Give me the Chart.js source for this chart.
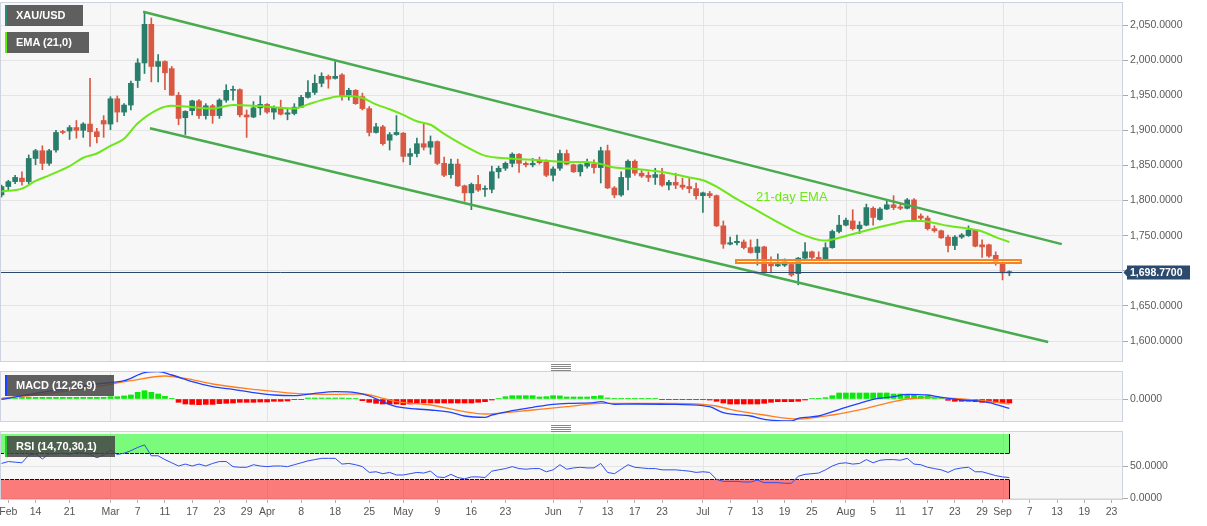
<!DOCTYPE html>
<html><head><meta charset="utf-8">
<script src="https://cdn.jsdelivr.net/npm/chart.js@4.4.1/dist/chart.umd.min.js"></script>
<style>
html,body{margin:0;padding:0;background:#fff;width:1207px;height:526px;overflow:hidden;font-family:"Liberation Sans",Arial,sans-serif;}
#wrap{position:relative;width:1207px;height:526px;}
canvas{position:absolute;left:0;}
.lg{position:absolute;left:5px;height:21px;line-height:21px;color:#fff;font-weight:bold;font-size:11px;background:rgba(70,70,70,0.86);padding-left:9px;box-sizing:border-box;border-left:2px solid;white-space:nowrap;}
.handle{position:absolute;left:551px;width:20px;height:7px;background:repeating-linear-gradient(to bottom,#888 0px,#888 1px,transparent 1px,transparent 2px);}
</style></head>
<body>
<div id="wrap">
  <canvas id="cMain" width="1207" height="362" style="top:0px;width:1207px;height:362px"></canvas>
  <canvas id="cMacd" width="1207" height="51" style="top:371px;width:1207px;height:51px"></canvas>
  <canvas id="cRsi" width="1207" height="103" style="top:423px;width:1207px;height:103px"></canvas>
  <div class="handle" style="top:364px"></div>
  <div class="handle" style="top:425px"></div>
  <div class="lg" style="top:5px;width:78px;border-color:#2e8774">XAU/USD</div>
  <div class="lg" style="top:32px;width:84px;border-color:#5ef000">EMA (21,0)</div>
  <div class="lg" style="top:375px;width:109px;border-color:#1f3fff">MACD (12,26,9)</div>
  <div class="lg" style="top:436px;width:110px;border-color:#22d022">RSI (14,70,30,1)</div>
</div>
<script>
// ---------- categories ----------
const START_DATE = '2022-02-07';
const END_DATE = '2022-09-30';
const CLOSED_DAYS = ['2022-04-15'];
const dates = (() => {
  const out = [];
  let d = new Date(START_DATE + 'T00:00:00Z');
  const end = new Date(END_DATE + 'T00:00:00Z');
  while (d <= end) {
    const s = d.toISOString().slice(0, 10);
    const wd = d.getUTCDay();
    if (wd !== 0 && wd !== 6 && !CLOSED_DAYS.includes(s)) out.push(s);
    d = new Date(d.getTime() + 86400000);
  }
  return out;
})();

// ---------- tick labels ----------
const tickDates = ['2022-02-08','2022-02-14','2022-02-21','2022-03-01','2022-03-07','2022-03-11','2022-03-17','2022-03-23','2022-03-29','2022-04-01','2022-04-08','2022-04-18','2022-04-25','2022-05-02','2022-05-09','2022-05-16','2022-05-23','2022-06-01','2022-06-07','2022-06-13','2022-06-17','2022-06-23','2022-07-01','2022-07-07','2022-07-13','2022-07-19','2022-07-25','2022-08-01','2022-08-05','2022-08-11','2022-08-17','2022-08-23','2022-08-29','2022-09-01','2022-09-07','2022-09-13','2022-09-19','2022-09-23'];
const tickLabels = ['Feb','14','21','Mar','7','11','17','23','29','Apr','8','18','25','May','9','16','23','Jun','7','13','17','23','Jul','7','13','19','25','Aug','5','11','17','23','29','Sep','7','13','19','23'];
const priceTicks = [1600,1650,1700,1750,1800,1850,1900,1950,2000,2050];
const macdTicks = [0];
const rsiTicks = [0,50];

// ---------- XAU/USD daily OHLC (from Feb 7) ----------
const open = [1808,1820,1827,1832,1827,1860,1871,1853,1872,1898,
1899,1904,1900,1909,1898,1914,1909,1945,1926,1936,
1971,1996,2051,1991,1998,1988,1950,1918,1928,1942,
1921,1935,1921,1943,1957,1958,1922,1919,1932,1937,
1926,1932,1923,1924,1933,1947,1954,1967,1977,1974,
1979,1950,1957,1948,1931,1897,1905,1886,1894,1896,
1863,1867,1881,1876,1884,1853,1837,1852,1821,1811,
1823,1816,1816,1841,1846,1853,1866,1853,1851,1856,
1855,1836,1846,1867,1851,1841,1849,1852,1847,1871,
1818,1808,1833,1856,1839,1836,1833,1837,1822,1826,
1822,1820,1817,1807,1810,1807,1764,1738,1740,1741,
1733,1726,1734,1711,1707,1708,1709,1696,1718,1727,
1719,1716,1733,1756,1765,1771,1760,1765,1789,1773,
1788,1794,1791,1789,1801,1778,1775,1760,1757,1748,
1736,1748,1750,1758,1737,1737,1722,1711,1697];
const high = [1822,1829,1836,1841,1865,1873,1878,1873,1900,1900,
1907,1914,1911,1974,1903,1921,1948,1949,1938,1970,
2002,2069,2060,2008,1999,1991,1954,1928,1943,1944,
1938,1937,1945,1965,1963,1959,1929,1941,1949,1938,
1935,1943,1930,1938,1950,1971,1979,1982,1979,1998,
1981,1960,1958,1953,1934,1910,1907,1897,1921,1897,
1874,1889,1909,1892,1885,1862,1859,1859,1822,1825,
1836,1821,1849,1849,1855,1868,1867,1855,1860,1862,
1858,1848,1872,1872,1852,1852,1859,1858,1876,1879,
1820,1841,1858,1858,1844,1841,1846,1846,1829,1839,
1832,1833,1825,1812,1813,1808,1771,1748,1751,1744,
1744,1745,1735,1720,1724,1717,1711,1719,1740,1728,
1727,1740,1758,1779,1775,1787,1770,1795,1791,1790,
1801,1807,1796,1803,1803,1781,1778,1764,1758,1751,
1750,1753,1764,1759,1744,1738,1727,1713,1700];
const low = [1805,1815,1824,1822,1824,1851,1844,1850,1869,1895,
1887,1889,1890,1877,1882,1890,1901,1912,1921,1929,
1961,1981,1969,1969,1958,1950,1908,1894,1922,1917,
1916,1910,1917,1940,1943,1919,1890,1918,1922,1924,
1916,1922,1915,1922,1933,1946,1951,1962,1960,1973,
1943,1943,1937,1929,1892,1896,1879,1872,1893,1855,
1851,1862,1872,1866,1851,1834,1832,1820,1799,1787,
1813,1806,1811,1832,1843,1848,1840,1848,1848,1852,
1834,1828,1843,1851,1840,1835,1846,1839,1825,1817,
1804,1806,1815,1836,1833,1827,1823,1820,1815,1817,
1816,1811,1802,1783,1804,1763,1732,1737,1737,1731,
1725,1708,1696,1697,1706,1706,1692,1680,1715,1716,
1714,1715,1732,1754,1764,1758,1753,1764,1765,1772,
1787,1787,1787,1788,1771,1772,1758,1755,1746,1727,
1730,1746,1749,1734,1719,1719,1708,1687,1693];
const close = [1820,1827,1833,1827,1860,1871,1853,1871,1897,1897,
1904,1900,1909,1898,1891,1909,1945,1926,1936,1967,
1996,2051,1991,1998,1982,1950,1917,1927,1942,1921,
1935,1921,1943,1957,1958,1922,1919,1932,1937,1926,
1932,1923,1925,1933,1947,1954,1967,1977,1973,1977,
1949,1957,1938,1931,1897,1905,1881,1894,1897,1863,
1867,1881,1876,1884,1853,1836,1852,1821,1811,1823,
1815,1816,1841,1846,1853,1866,1853,1851,1853,1854,
1836,1845,1867,1852,1841,1851,1853,1847,1871,1818,
1808,1833,1856,1839,1835,1833,1837,1822,1826,1822,
1819,1817,1807,1811,1807,1764,1738,1740,1742,1733,
1726,1734,1697,1707,1709,1713,1694,1718,1727,1719,
1716,1733,1756,1765,1772,1760,1765,1790,1776,1788,
1794,1790,1789,1801,1772,1775,1760,1757,1747,1736,
1748,1751,1758,1735,1734,1721,1711,1697,1698.77];
const lastPrice = 1698.77;

// ---------- 21-day EMA (read at these bar indexes) ----------
const emaAt  = [0,3,5,7,10,12,14,16,18,20,23,25,27,31,34,37,40,43,45,47,49,51,53,55,57,59,61,63,65,68,71,73,76,78,81,83,86,88,90,93,96,99,101,103,105,108,110,112,115,117,120,121,123,126,128,131,133,135,137,139,142,144,146,148];
const emaVal = [1813,1817,1828,1836,1849,1861,1867,1878,1888,1910,1930,1935,1934,1931,1936,1935,1933,1931,1937,1943,1948,1949,1946,1937,1930,1922,1913,1908,1895,1878,1864,1861,1859,1858,1856,1855,1855,1852,1847,1845,1842,1837,1833,1829,1820,1802,1791,1780,1764,1754,1744,1743,1747,1755,1760,1767,1771,1771,1768,1764,1760,1756,1748,1741];

// ---------- MACD (12,26,9) ----------
const macdAt  = [0,5,10,14,18,21,23,25,28,31,34,37,40,43,46,49,52,54,56,58,61,63,66,68,71,72,75,78,81,84,87,88,90,93,98,103,104,106,110,112,116,117,120,124,126,128,131,133,136,138,141,143,145,148];
const macdVal = [-0.4,7.4,13.9,19.5,23.8,34.2,35.5,31.2,22.5,16,12.6,8.2,5.2,4.3,7.4,9.5,8.2,3.9,-3.5,-10,-13,-14.3,-17.3,-22.1,-23.8,-20.8,-15.2,-10.8,-6.9,-5.6,-4.8,-3.5,-6.9,-6.5,-6.9,-8.7,-10,-17.8,-22.1,-26.4,-28.6,-25.1,-22.1,-10.8,-5.6,-0.4,3,6.1,5.2,2.2,-1.3,-2.2,-4.8,-12.1];
const signalAt  = [0,5,10,14,19,24,27,31,37,43,49,53,56,58,63,68,71,73,78,83,88,93,98,103,105,107,112,117,122,127,131,133,137,141,144,148];
const signalVal = [0.9,5.2,10.8,16,23.8,29.9,26.9,19.5,12.6,7.4,6.1,6.5,0.9,-3.5,-7.8,-16.5,-19.5,-18.6,-14.3,-10,-5.6,-5.6,-5.6,-6.9,-9.1,-13.4,-20.8,-26,-20.8,-12.1,-3.5,0,2.2,0,-2.2,-6.5];
const macdHist = [0.5,0.5,0.5,2.2,2.2,2.2,2.2,2.2,2.2,2.2,
2.2,2.2,2.2,2.2,2.2,2.2,3,3,4,5.2,
8.7,10.8,8.7,6.5,3.5,0.4,-4.3,-6.5,-7,-7.4,
-7,-7,-6,-5.6,-5.2,-4.3,-4.3,-4.3,-3.9,-3.9,
-3,-3,-2.6,-0.9,-0.5,1.3,1.3,1.3,1.3,1.3,
1.3,1,0.5,-2.2,-4.3,-5.6,-6.5,-6.5,-6.5,-7.4,
-6.5,-5.2,-5.2,-5.2,-5.2,-5.2,-5.2,-5.2,-5.2,-5.2,
-4.3,-3.5,-1.3,0.5,3,4.3,4.3,4.3,4.3,2.6,
3,4.3,4,2.6,2.6,2.6,2.6,3.5,4.3,1.3,
0.9,0.9,0.9,0.9,0.9,0.9,0.5,-0.9,-0.9,-0.9,
-0.9,-0.9,-0.9,-0.9,-1.3,-3,-5.2,-6.5,-6.5,-6.5,
-6.5,-6.5,-5.6,-4.3,-3.5,-3.5,-3.5,-3,-1.3,0.5,
0.9,1.7,4.3,7.8,7.8,7.8,7.8,7.8,7.8,7.8,
7.8,6.5,6.5,6,6,3.5,3.5,1.3,0.5,-1.7,
-3,-3,-3,-3.5,-4.3,-4.3,-4.8,-5.2,-5.2];

// ---------- RSI (14) ----------
const rsi = [54,57,56,55,67,69,61,69,69,70,
68,71,70,68,63,67,75,68,70,74,
79,83,66,66,60,55,50,53,50,53,
50,54,57,57,49,48,48,52,50,49,
50,50,49,52,55,58,60,62,62,62,
53,54,52,49,40,41,38,40,36,36,
38,40,39,42,33,32,37,32,30,33,
33,32,42,44,46,49,46,45,46,46,
41,44,52,45,47,48,47,47,54,40,
38,45,52,48,47,46,46,44,44,44,
43,42,40,41,40,29,26,26,26,25,
25,28,24,24,24,23,23,34,37,38,
39,44,50,54,55,53,54,60,55,59,
60,60,59,62,53,52,48,46,44,40,
45,47,48,41,41,38,35,33,32];
const rsiBands = [30, 70, 100];

// ---------- drawn studies ----------
const channelUpper = [[20.8, 2069], [155.7, 1738]];   // [bar index, price]
const channelLower = [[21.8, 1903], [153.7, 1598.6]];
const zoneRange = [107.86, 149.7];     // bar index span
const zoneLevels = [1711.1, 1715.3];   // price span
const emaNote = { text: '21-day EMA', at: [110.8, 1805] };

// ---------- view ----------
const X_MIN = -0.22, X_MAX = 164.69;
const PRICE_MIN = 1570.1, PRICE_MAX = 2082.8;
const MACD_MIN = -29.9, MACD_MAX = 36.4;
const RSI_MIN = -3.1, RSI_MAX = 104.7;

// ---------- styling ----------
const FONT = '"Liberation Sans", Arial, sans-serif';
const UP = '#2a7d6a', DOWN = '#d85844';
const PANEL_BG = '#f7f7f7', PANEL_BORDER = '#cdd3e1', GRID = '#e4e4e4';
const AXIS_W = 84;
Chart.defaults.font.family = FONT;

const fmt = v => Number(v).toLocaleString('en-US', {minimumFractionDigits: 4, maximumFractionDigits: 4});
const monthIdx = dates.map((d, i) => (i > 0 && d.slice(5, 7) !== dates[i - 1].slice(5, 7)) ? i : -1).filter(i => i >= 0);
const tickIdx = tickDates.map(d => dates.indexOf(d));
const lastIdx = close.length - 1;
const idx = close.map((_, i) => i);
const candleColor = idx.map(i => close[i] >= open[i] ? UP : DOWN);

function panelPlugin(extra) {
  return {
    id: 'panel',
    beforeDraw(chart) {
      const {ctx, chartArea: a} = chart;
      ctx.save(); ctx.fillStyle = PANEL_BG;
      ctx.fillRect(a.left, a.top, a.right - a.left, a.bottom - a.top);
      ctx.restore();
    },
    beforeDatasetsDraw(chart) {
      const {ctx, chartArea: a, scales} = chart;
      ctx.save(); ctx.strokeStyle = GRID; ctx.lineWidth = 1;
      monthIdx.forEach(i => {
        const x = Math.round(scales.x.getPixelForValue(i)) + 0.5;
        ctx.beginPath(); ctx.moveTo(x, a.top); ctx.lineTo(x, a.bottom); ctx.stroke();
      });
      ctx.restore();
      if (extra && extra.under) extra.under(chart);
    },
    afterDatasetsDraw(chart) { if (extra && extra.over) extra.over(chart); },
    afterDraw(chart) {
      const {ctx, chartArea: a} = chart;
      ctx.save(); ctx.strokeStyle = PANEL_BORDER; ctx.lineWidth = 1;
      ctx.strokeRect(a.left + 0.5, a.top + 0.5, a.right - a.left - 1, a.bottom - a.top - 1);
      ctx.restore();
      if (extra && extra.last) extra.last(chart);
    }
  };
}

function yAxis(min, max, ticksList) {
  return {
    position: 'right', min, max,
    afterBuildTicks: s => { s.ticks = ticksList.map(v => ({value: v})); },
    afterFit: s => { s.width = AXIS_W; s.paddingTop = 0; s.paddingBottom = 0; },
    ticks: { callback: v => fmt(v), color: '#5a5a5a', font: {size: 10.5, family: FONT}, padding: 2 },
    grid: { color: GRID, drawTicks: true, tickLength: 5, tickColor: '#a8a8a8' },
    border: { display: false }
  };
}
const hiddenX = { type: 'linear', min: X_MIN, max: X_MAX, display: false, offset: false };
const baseOpts = {
  responsive: false, animation: false, devicePixelRatio: 1, events: [],
  plugins: { legend: {display: false}, tooltip: {enabled: false} }
};

// ---------- main price chart ----------
new Chart(document.getElementById('cMain'), {
  type: 'line',
  data: { datasets: [
    { type: 'bar', data: idx.map(i => ({x: i, y: [low[i], high[i]]})), backgroundColor: candleColor, barThickness: 1, grouped: false, order: 6 },
    { type: 'bar', data: idx.map(i => ({x: i, y: [open[i], close[i]]})), backgroundColor: candleColor, barThickness: 5, minBarLength: 1, grouped: false, order: 5 },
    { type: 'line', data: emaAt.map((i, k) => ({x: i, y: emaVal[k]})), borderColor: '#6ee619', borderWidth: 2, pointRadius: 0, cubicInterpolationMode: 'monotone', order: 3 },
    { type: 'line', data: channelUpper.map(p => ({x: p[0], y: p[1]})), borderColor: '#4aaa4e', borderWidth: 2.5, pointRadius: 0, order: 2 },
    { type: 'line', data: channelLower.map(p => ({x: p[0], y: p[1]})), borderColor: '#4aaa4e', borderWidth: 2.5, pointRadius: 0, order: 2 }
  ]},
  options: Object.assign({}, baseOpts, {
    layout: { padding: {top: 2, left: 0, right: 0, bottom: 0} },
    scales: { x: hiddenX, y: yAxis(PRICE_MIN, PRICE_MAX, priceTicks) }
  }),
  plugins: [panelPlugin({
    over(chart) {
      const {ctx, chartArea: a, scales: {x, y}} = chart;
      ctx.save();
      const x0 = x.getPixelForValue(zoneRange[0]), x1 = x.getPixelForValue(zoneRange[1]);
      const y0 = y.getPixelForValue(zoneLevels[1]), y1 = y.getPixelForValue(zoneLevels[0]);
      ctx.fillStyle = 'rgba(255,255,255,0.6)'; ctx.fillRect(x0, y0, x1 - x0, y1 - y0);
      ctx.strokeStyle = '#f5841f'; ctx.lineWidth = 2; ctx.strokeRect(x0, y0, x1 - x0, y1 - y0);
      const py = Math.round(y.getPixelForValue(lastPrice)) + 0.5;
      ctx.strokeStyle = '#2b4a6e'; ctx.lineWidth = 1;
      ctx.beginPath(); ctx.moveTo(a.left, py); ctx.lineTo(a.right, py); ctx.stroke();
      ctx.fillStyle = '#6ee619'; ctx.font = '13px ' + FONT; ctx.textBaseline = 'middle'; ctx.textAlign = 'left';
      ctx.fillText(emaNote.text, x.getPixelForValue(emaNote.at[0]), y.getPixelForValue(emaNote.at[1]));
      ctx.restore();
    },
    last(chart) {
      const {ctx, chartArea: a, scales: {y}} = chart;
      const py = Math.round(y.getPixelForValue(lastPrice)) + 0.5;
      const r = a.right;
      ctx.save();
      ctx.fillStyle = '#2c4a6d';
      ctx.beginPath(); ctx.moveTo(r + 0.5, py); ctx.lineTo(r + 4.5, py - 4.5); ctx.lineTo(r + 4.5, py + 4.5); ctx.closePath(); ctx.fill();
      ctx.fillRect(r + 4, py - 7, 63, 14);
      ctx.fillStyle = '#fff'; ctx.font = 'bold 10.5px ' + FONT; ctx.textBaseline = 'middle'; ctx.textAlign = 'left';
      ctx.fillText(fmt(lastPrice), r + 7, py + 0.5);
      ctx.restore();
    }
  })]
});

// ---------- MACD ----------
new Chart(document.getElementById('cMacd'), {
  type: 'line',
  data: { datasets: [
    { type: 'bar', data: idx.map(i => ({x: i, y: macdHist[i]})), backgroundColor: macdHist.map(v => v >= 0 ? '#0ce80c' : '#ff0000'), barThickness: 5, grouped: false, order: 5 },
    { type: 'line', data: signalAt.map((i, k) => ({x: i, y: signalVal[k]})), borderColor: '#ff7f1e', borderWidth: 1.3, pointRadius: 0, cubicInterpolationMode: 'monotone', order: 3 },
    { type: 'line', data: macdAt.map((i, k) => ({x: i, y: macdVal[k]})), borderColor: '#2040ff', borderWidth: 1.3, pointRadius: 0, cubicInterpolationMode: 'monotone', order: 2 }
  ]},
  options: Object.assign({}, baseOpts, {
    layout: { padding: 0 },
    scales: { x: hiddenX, y: yAxis(MACD_MIN, MACD_MAX, macdTicks) }
  }),
  plugins: [panelPlugin()]
});

// ---------- RSI ----------
new Chart(document.getElementById('cRsi'), {
  type: 'line',
  data: { datasets: [
    { type: 'line', data: idx.map(i => ({x: i, y: rsi[i]})), borderColor: '#2f4ff0', borderWidth: 1, pointRadius: 0, tension: 0 }
  ]},
  options: Object.assign({}, baseOpts, {
    layout: { padding: {top: 8, left: 0, right: 0, bottom: 0} },
    scales: {
      x: {
        type: 'linear', min: X_MIN, max: X_MAX, offset: false,
        afterBuildTicks: s => { s.ticks = tickIdx.map(v => ({value: v})); },
        afterFit: s => { s.height = 26; s.paddingLeft = 0; s.paddingRight = 0; },
        ticks: { callback: (v, i) => tickLabels[i], autoSkip: false, maxRotation: 0, minRotation: 0, color: '#555', font: {size: 10.5, family: FONT}, padding: 3 },
        grid: { drawOnChartArea: false, drawTicks: true, tickLength: 3, tickColor: '#b0b0b0', offset: false },
        border: { display: false }
      },
      y: yAxis(RSI_MIN, RSI_MAX, rsiTicks)
    }
  }),
  plugins: [panelPlugin({
    under(chart) {
      const {ctx, chartArea: a, scales: {x, y}} = chart;
      const xr = x.getPixelForValue(lastIdx);
      const y30 = Math.round(y.getPixelForValue(rsiBands[0])) + 0.5;
      const y70 = Math.round(y.getPixelForValue(rsiBands[1])) + 0.5;
      const y100 = y.getPixelForValue(rsiBands[2]);
      ctx.save();
      ctx.fillStyle = 'rgba(0,255,0,0.5)';
      ctx.fillRect(a.left, y100, xr - a.left, y70 - y100);
      ctx.fillStyle = 'rgba(255,0,0,0.5)';
      ctx.fillRect(a.left, y30, xr - a.left, a.bottom - y30);
      ctx.strokeStyle = '#111'; ctx.lineWidth = 1;
      ctx.setLineDash([4, 1]);
      ctx.beginPath(); ctx.moveTo(a.left, y70); ctx.lineTo(xr, y70); ctx.moveTo(a.left, y30); ctx.lineTo(xr, y30); ctx.stroke();
      ctx.setLineDash([]);
      const xv = Math.round(xr) + 0.5;
      ctx.beginPath(); ctx.moveTo(xv, y100); ctx.lineTo(xv, y70); ctx.moveTo(xv, y30); ctx.lineTo(xv, a.bottom); ctx.stroke();
      ctx.restore();
    }
  })]
});
</script>
</body></html>
